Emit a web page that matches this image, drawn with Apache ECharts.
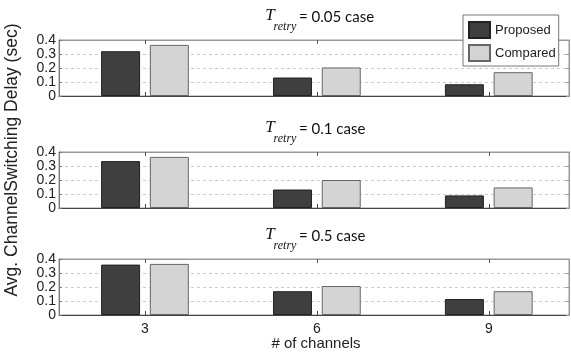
<!DOCTYPE html>
<html><head><meta charset="utf-8">
<script src="https://cdn.jsdelivr.net/npm/echarts@6/dist/echarts.min.js"></script>
<style>html,body{margin:0;padding:0;background:#fff}#c{width:571px;height:352px}</style>
</head><body><div id="c"></div>
<script>
// ---- data ----
const channels = [3, 6, 9];
const retryCases = ['0.05', '0.1', '0.5'];
const proposed = [
  [0.32, 0.132, 0.084],
  [0.335, 0.132, 0.09],
  [0.36, 0.17, 0.114]
];
const compared = [
  [0.365, 0.204, 0.17],
  [0.365, 0.2, 0.147],
  [0.365, 0.207, 0.17]
];
const yTicks = [0, 0.1, 0.2, 0.3, 0.4];
const yTickStep = 0.1;
const yMax = 0.4;
const seriesNames = ['Proposed', 'Compared'];
const yAxisTitle = 'Avg. ChannelSwitching Delay (sec)';
const xAxisTitle = '# of channels';

// ---- layout ----
const panelTops = [40, 152, 259];
const panelHeights = [56, 56, 56];
const gridLeft = 59, gridRight = 2;
const sansFont = 'Liberation Sans';

const grids = [], xAxes = [], yAxes = [], series = [], graphics = [];
panelTops.forEach((top, i) => {
  grids.push({left: gridLeft, right: gridRight, top: top, height: panelHeights[i], show: true, borderColor: '#999', borderWidth: 1, backgroundColor: '#fff'});
  // bottom x axis
  xAxes.push({
    type: 'value', gridIndex: i, min: 1.5, max: 10.4, position: 'bottom',
    axisLine: {show: true, onZero: false, lineStyle: {color: '#444', width: 1}},
    axisTick: {show: true, inside: true, length: 4, customValues: channels, lineStyle: {color: '#444'}},
    axisLabel: {show: i === 2, customValues: channels, fontSize: 14, fontFamily: sansFont, color: '#222', margin: 7},
    splitLine: {show: false}
  });
  // top x axis (ticks only)
  xAxes.push({
    type: 'value', gridIndex: i, min: 1.5, max: 10.4, position: 'top',
    axisLine: {show: true, onZero: false, lineStyle: {color: '#999', width: 1}},
    axisTick: {show: true, inside: true, length: 4, customValues: channels, lineStyle: {color: '#555'}},
    axisLabel: {show: false}, splitLine: {show: false}
  });
  yAxes.push({
    type: 'value', gridIndex: i, min: 0, max: yMax, interval: yTickStep, position: 'left',
    axisLine: {show: true, lineStyle: {color: '#777'}},
    axisTick: {show: true, inside: true, length: 3, customValues: yTicks, lineStyle: {color: '#777'}},
    axisLabel: {customValues: yTicks, fontSize: 14, fontFamily: sansFont, color: '#222', margin: 3, hideOverlap: false, showMinLabel: true, showMaxLabel: true},
    splitLine: {show: true, lineStyle: {color: '#ccc', type: [3, 3], width: 1}}
  });
  yAxes.push({
    type: 'value', gridIndex: i, min: 0, max: yMax, interval: yTickStep, position: 'right',
    axisLine: {show: true, lineStyle: {color: '#999'}},
    axisTick: {show: true, inside: true, length: 3, customValues: yTicks, lineStyle: {color: '#999'}},
    axisLabel: {show: false}, splitLine: {show: false}
  });
  series.push({
    type: 'bar', name: seriesNames[0], xAxisIndex: 2 * i, yAxisIndex: 2 * i,
    barWidth: 39, barGap: '25%',
    itemStyle: {color: '#3f3f3f', borderColor: '#222', borderWidth: 1},
    data: channels.map((c, j) => [c, proposed[i][j]])
  });
  series.push({
    type: 'bar', name: seriesNames[1], xAxisIndex: 2 * i, yAxisIndex: 2 * i,
    barWidth: 39, barGap: '25%',
    itemStyle: {color: '#d4d4d4', borderColor: '#666', borderWidth: 1},
    data: channels.map((c, j) => [c, compared[i][j]])
  });
  // panel title: T_retry = x case
  graphics.push({type: 'text', x: 270, y: top - 24, style: {text: 'T', font: 'italic 17px Liberation Serif', fill: '#111', align: 'center', verticalAlign: 'middle'}});
  graphics.push({type: 'text', x: 285, y: top - 13, style: {text: 'retry', font: 'italic 12px Liberation Serif', fill: '#111', align: 'center', verticalAlign: 'middle'}});
  graphics.push({type: 'text', x: 299, y: top - 23, style: {text: '= ' + retryCases[i] + ' case', font: '15px Lato', fill: '#111', align: 'left', verticalAlign: 'middle'}});
});

graphics.push({type: 'text', x: 12, y: 160, rotation: Math.PI / 2, style: {text: yAxisTitle, font: '17.5px ' + sansFont, fill: '#222', align: 'center', verticalAlign: 'middle'}});
graphics.push({type: 'text', x: 316, y: 344, style: {text: xAxisTitle, font: '15px ' + sansFont, fill: '#222', align: 'center', verticalAlign: 'middle'}});

const chart = echarts.init(document.getElementById('c'), null, {renderer: 'canvas'});
chart.setOption({
  animation: false,
  backgroundColor: '#fff',
  grid: grids, xAxis: xAxes, yAxis: yAxes, series: series,
  legend: {
    data: seriesNames, orient: 'vertical', left: 463, top: 15,
    itemWidth: 21, itemHeight: 16, itemGap: 5, padding: [6, 3, 4, 5],
    borderColor: '#777', borderWidth: 1, backgroundColor: '#fff',
    icon: 'rect', textStyle: {fontSize: 13, fontFamily: sansFont, color: '#222'}
  },
  graphic: graphics
});
</script></body></html>
